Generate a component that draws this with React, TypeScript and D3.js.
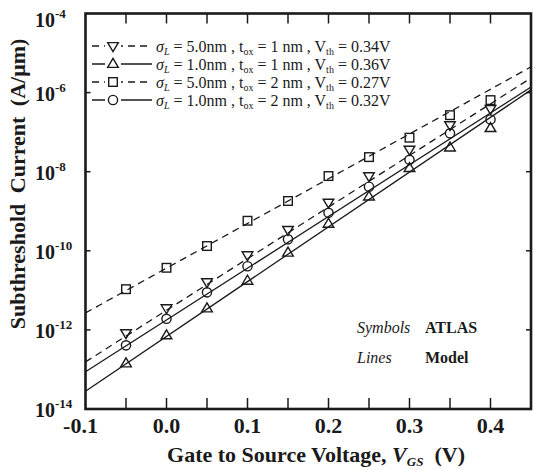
import React from "react";
import * as d3 from "d3";

const vgs = [-0.05, 0.0, 0.05, 0.1, 0.15, 0.2, 0.25, 0.3, 0.35, 0.4];
const atlasSq = [1.07e-11, 3.72e-11, 1.32e-10, 5.75e-10, 1.82e-9, 7.76e-9, 2.34e-8, 7.24e-8, 2.69e-7, 6.46e-7];
const atlasTdn = [8.32e-13, 3.55e-12, 1.62e-11, 7.76e-11, 3.39e-10, 1.66e-9, 7.76e-9, 3.63e-8, 1.51e-7, 3.89e-7];
const atlasCirc = [4.07e-13, 1.91e-12, 8.91e-12, 4.07e-11, 1.95e-10, 9.12e-10, 4.17e-9, 2.0e-8, 9.33e-8, 2.09e-7];
const atlasTup = [1.41e-13, 7.24e-13, 3.47e-12, 1.74e-11, 8.91e-11, 4.79e-10, 2.34e-9, 1.23e-8, 4.07e-8, 1.26e-7];

const modelX = [-0.1, 0.45];
const modelSq = [2.69e-12, 4.47e-6];
const modelTdn = [1.55e-13, 2.34e-6];
const modelCirc = [8.71e-14, 1.38e-6];
const modelTup = [2.82e-14, 1.17e-6];

const xTicks = [-0.05, 0.0, 0.05, 0.1, 0.15, 0.2, 0.25, 0.3, 0.35, 0.4];
const xLabels = [-0.1, 0.0, 0.1, 0.2, 0.3, 0.4];
const yExps = [-4, -6, -8, -10, -12, -14];

const legendRows = [
  { sigma: "5.0nm", tox: "1 nm", vth: "0.34V" },
  { sigma: "1.0nm", tox: "1 nm", vth: "0.36V" },
  { sigma: "5.0nm", tox: "2 nm", vth: "0.27V" },
  { sigma: "1.0nm", tox: "2 nm", vth: "0.32V" },
];

const FONT = "'Liberation Serif', 'DejaVu Serif', serif";
const INK = "#1a1a1a";

type Shape = "tdn" | "tup" | "sq" | "circ";

function Marker({ shape, cx, cy }: { shape: Shape; cx: number; cy: number }) {
  const common = { fill: "none", stroke: INK, strokeWidth: 1.4 };
  if (shape === "circ") return <circle cx={cx} cy={cy} r={4.6} {...common} />;
  if (shape === "sq") return <rect x={cx - 4.3} y={cy - 4.3} width={8.6} height={8.6} {...common} />;
  const s = 5.6;
  if (shape === "tup")
    return <path d={`M${cx},${cy - s}L${cx + s * 0.95},${cy + s * 0.6}L${cx - s * 0.95},${cy + s * 0.6}Z`} {...common} />;
  return <path d={`M${cx},${cy + s}L${cx + s * 0.95},${cy - s * 0.6}L${cx - s * 0.95},${cy - s * 0.6}Z`} {...common} />;
}

export default function App() {
  const L = 85.5, R = 531, T = 13.5, B = 409;
  const x = d3.scaleLinear().domain([-0.1, 0.45]).range([L, R]);
  const y = d3.scaleLog().domain([1e-14, 1e-4]).range([B, T]);
  const line = d3
    .line<[number, number]>()
    .x((d) => x(d[0]))
    .y((d) => y(d[1]));

  const series: { shape: Shape; atlas: number[]; model: number[]; dashed: boolean }[] = [
    { shape: "sq", atlas: atlasSq, model: modelSq, dashed: true },
    { shape: "tdn", atlas: atlasTdn, model: modelTdn, dashed: true },
    { shape: "circ", atlas: atlasCirc, model: modelCirc, dashed: false },
    { shape: "tup", atlas: atlasTup, model: modelTup, dashed: false },
  ];
  const legendShapes: Shape[] = ["tdn", "tup", "sq", "circ"];
  const legendDashed = [true, false, true, false];
  const legendY = [46, 64, 82, 100];

  return (
    <svg width={533} height={470} style={{ display: "block", position: "absolute", left: 0, top: 0 }}>
      <rect width={533} height={470} fill="#fff" />
      <defs>
        <clipPath id="plot">
          <rect x={L} y={T} width={R - L} height={B - T} />
        </clipPath>
      </defs>
      <g clipPath="url(#plot)">
        {series.map((s, i) => (
          <path
            key={i}
            d={line(modelX.map((v, j) => [v, s.model[j]] as [number, number])) || ""}
            fill="none"
            stroke={INK}
            strokeWidth={1.3}
            strokeDasharray={s.dashed ? "7,5" : undefined}
          />
        ))}
        {series.map((s, i) =>
          vgs.map((v, j) => <Marker key={`${i}-${j}`} shape={s.shape} cx={x(v)} cy={y(s.atlas[j])} />)
        )}
      </g>
      {/* ticks */}
      {xTicks.map((t, i) => (
        <g key={i} stroke={INK} strokeWidth={1.5}>
          <line x1={x(t)} x2={x(t)} y1={B} y2={B - 11} />
          <line x1={x(t)} x2={x(t)} y1={T} y2={T + 10} />
        </g>
      ))}
      {yExps.slice(1, -1).map((e, i) => (
        <g key={i} stroke={INK} strokeWidth={1.5}>
          <line x1={L} x2={L + 5} y1={y(Math.pow(10, e))} y2={y(Math.pow(10, e))} />
          <line x1={R} x2={R - 5} y1={y(Math.pow(10, e))} y2={y(Math.pow(10, e))} />
        </g>
      ))}
      <rect x={L} y={T} width={R - L} height={B - T} fill="none" stroke={INK} strokeWidth={2.6} />
      {/* x tick labels */}
      {xLabels.map((t, i) => (
        <text key={i} x={x(t) - (t < 0 ? 5 : 0)} y={433} textAnchor="middle" fontFamily={FONT} fontWeight="bold" fontSize={22} fill={INK}>
          {d3.format(".1f")(t).replace("−", "-")}
        </text>
      ))}
      {/* y tick labels */}
      {yExps.map((e, i) => (
        <text key={i} x={35} y={y(Math.pow(10, e)) + (e === -4 ? 13 : 8)} fontFamily={FONT} fontWeight="bold" fontSize={20} fill={INK}>
          10
          <tspan fontSize={13} dy={-9}>{`-${-e}`}</tspan>
        </text>
      ))}
      {/* axis titles */}
      <text x={316} y={462} textAnchor="middle" fontFamily={FONT} fontWeight="bold" fontSize={22} fill={INK}>
        Gate to Source Voltage,{" "}
        <tspan fontStyle="italic">V</tspan>
        <tspan fontStyle="italic" fontSize={13} dy={4}>GS</tspan>
        <tspan dy={-4}>{"\u00a0\u00a0(V)"}</tspan>
      </text>
      <text
        transform={`translate(25,184) rotate(-90)`}
        textAnchor="middle"
        fontFamily={FONT}
        fontWeight="bold"
        fontSize={22}
        wordSpacing={5}
        fill={INK}
      >
        Subthreshold Current (A/μm)
      </text>
      {/* legend */}
      {legendRows.map((r, i) => (
        <g key={i}>
          <line x1={92} x2={152} y1={legendY[i]} y2={legendY[i]} stroke={INK} strokeWidth={1.3} strokeDasharray={legendDashed[i] ? "7,5" : undefined} />
          <rect x={105} y={legendY[i] - 7} width={16} height={14} fill="#fff" />
          <Marker shape={legendShapes[i]} cx={113} cy={legendY[i]} />
          <text x={156} y={legendY[i] + 5.5} fontFamily={FONT} fontSize={16} fill={INK}>
            <tspan fontStyle="italic">σ</tspan>
            <tspan fontStyle="italic" fontSize={10} dy={3}>L</tspan>
            <tspan dy={-3}>{` = ${r.sigma} , t`}</tspan>
            <tspan fontSize={10} dy={3}>ox</tspan>
            <tspan dy={-3}>{` = ${r.tox} , V`}</tspan>
            <tspan fontSize={10} dy={3}>th</tspan>
            <tspan dy={-3}>{` = ${r.vth}`}</tspan>
          </text>
        </g>
      ))}
      {/* annotation */}
      <text x={357} y={333} fontFamily={FONT} fontStyle="italic" fontSize={16} fill={INK}>Symbols</text>
      <text x={425} y={333} fontFamily={FONT} fontWeight="bold" fontSize={16} fill={INK}>ATLAS</text>
      <text x={357} y={363} fontFamily={FONT} fontStyle="italic" fontSize={16} fill={INK}>Lines</text>
      <text x={425} y={363} fontFamily={FONT} fontWeight="bold" fontSize={16} fill={INK}>Model</text>
    </svg>
  );
}
